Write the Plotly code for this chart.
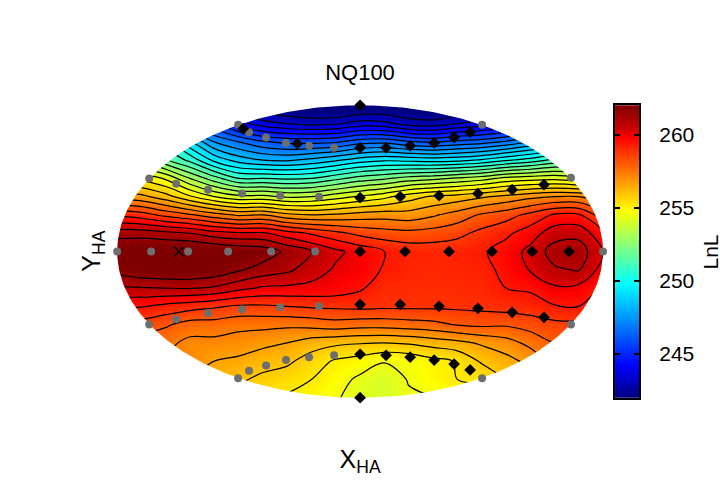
import numpy as np
import plotly.graph_objects as go

# Grid of the LnL surface, rows listed from top (y=1) to bottom (y=-1)
x_grid = np.round(np.arange(-1, 1.01, 0.1), 2)
y_grid = np.round(np.arange(1, -1.01, -0.125), 3)

lnl_rows = [
    [245.0, 244.5, 244.0, 243.5, 243.0, 242.4, 241.9, 241.6, 241.4, 241.4, 241.6, 241.7, 241.5, 241.4, 241.5, 241.7, 242.2, 242.8, 243.3, 243.8, 244.3],
    [248.0, 247.5, 247.0, 246.5, 245.5, 244.3, 243.6, 243.3, 243.1, 243.2, 243.6, 243.5, 243.0, 242.9, 243.3, 243.6, 244.0, 244.5, 245.0, 245.5, 246.0],
    [252.0, 251.5, 250.5, 249.0, 247.5, 246.8, 246.2, 245.9, 245.9, 246.0, 246.5, 246.6, 246.2, 246.0, 246.3, 246.5, 246.9, 247.5, 248.0, 248.5, 249.0],
    [254.0, 253.0, 251.8, 250.8, 249.4, 248.6, 248.2, 248.1, 248.4, 248.8, 249.25, 249.5, 249.4, 249.3, 249.4, 249.7, 250.2, 250.6, 251.2, 251.3, 251.0],
    [255.5, 255.0, 254.4, 253.1, 252.0, 251.0, 251.0, 250.9, 251.0, 251.5, 252.0, 252.3, 252.7, 252.9, 253.2, 253.5, 254.0, 254.2, 254.3, 254.0, 253.5],
    [257.0, 256.8, 256.2, 255.3, 254.5, 254.0, 254.0, 253.7, 253.8, 254.2, 254.6, 255.0, 255.6, 256.0, 256.2, 256.5, 256.8, 257.1, 257.3, 257.3, 256.9],
    [259.3, 259.0, 258.5, 258.1, 257.6, 257.2, 257.3, 256.8, 256.6, 256.7, 256.9, 257.0, 256.9, 257.2, 257.6, 258.1, 258.4, 258.9, 259.5, 259.5, 258.3],
    [261.2, 261.2, 261.0, 260.8, 260.4, 260.2, 260.2, 259.7, 259.3, 258.9, 258.5, 258.3, 258.2, 258.3, 258.5, 258.9, 259.25, 259.75, 260.5, 260.55, 259.6],
    [262.2, 262.3, 262.4, 262.4, 262.3, 262.1, 261.9, 261.35, 260.8, 260.25, 259.85, 259.4, 259.15, 259.1, 259.15, 259.3, 259.7, 260.3, 261.1, 261.2, 260.1],
    [261.8, 262.1, 262.2, 262.2, 262.0, 261.6, 261.2, 260.95, 260.45, 260.0, 259.9, 259.3, 259.1, 259.05, 259.1, 259.15, 259.6, 260.15, 260.7, 260.85, 259.8],
    [260.7, 260.75, 260.8, 260.85, 260.7, 260.3, 260.0, 259.95, 259.9, 259.8, 259.5, 259.0, 259.0, 258.95, 259.0, 259.05, 259.4, 259.5, 260.0, 259.9, 259.3],
    [259.5, 259.45, 259.2, 259.0, 258.8, 258.6, 258.6, 258.7, 258.8, 258.85, 258.9, 258.85, 258.85, 258.85, 258.85, 258.9, 259.0, 259.1, 259.35, 259.4, 259.0],
    [258.5, 258.4, 258.1, 257.7, 257.7, 257.5, 257.5, 257.45, 257.55, 257.7, 257.6, 257.6, 257.7, 257.8, 258.05, 258.15, 258.1, 258.3, 258.5, 258.5, 258.0],
    [257.6, 257.6, 257.5, 257.1, 257.1, 257.0, 256.8, 256.6, 256.25, 256.05, 255.95, 255.9, 256.0, 256.2, 256.4, 256.7, 257.0, 257.5, 258.0, 258.0, 257.5],
    [257.2, 257.2, 257.2, 257.1, 256.6, 256.45, 256.15, 256.05, 255.55, 255.1, 254.9, 254.55, 254.65, 255.0, 255.25, 256.0, 256.35, 256.8, 257.5, 257.5, 257.0],
    [256.6, 256.6, 256.5, 256.5, 256.3, 256.0, 255.75, 255.5, 255.2, 254.8, 254.35, 254.05, 254.55, 254.9, 255.2, 255.25, 255.9, 256.3, 256.5, 257.0, 257.0],
    [256.3, 256.2, 256.1, 256.0, 255.9, 255.6, 255.3, 255.1, 254.9, 254.6, 254.1, 254.0, 254.4, 254.45, 254.9, 255.1, 255.5, 256.0, 256.5, 256.8, 257.0],
]

cbar_ticks = [245, 250, 255, 260]
cbar_levels = np.linspace(242, 262, 201)

# Sampled points
grey_x = [-1.0, -0.86, -0.708, -0.543, -0.366, -0.185,
          -0.868, -0.757, -0.626, -0.486, -0.329, -0.169,
          -0.868, -0.757, -0.626, -0.486, -0.329, -0.169,
          -0.502, -0.457, -0.387, -0.305, -0.21, -0.107,
          -0.502, -0.457, -0.387, -0.305, -0.21, -0.107,
          1.0, 0.868, 0.868, 0.502, 0.502]
grey_y = [0, 0, 0, 0, 0, 0,
          0.5, 0.464, 0.423, 0.396, 0.382, 0.375,
          -0.5, -0.464, -0.423, -0.396, -0.382, -0.375,
          0.867, 0.816, 0.78, 0.743, 0.723, 0.71,
          -0.867, -0.816, -0.78, -0.743, -0.723, -0.71,
          0, 0.505, -0.5, 0.867, -0.867]

black_x = [0, 0, 0, 0, 0, 0, 0,
           0.185, 0.366, 0.543, 0.708, 0.86,
           0.165, 0.325, 0.485, 0.626, 0.757,
           0.165, 0.325, 0.485, 0.626, 0.757,
           0.107, 0.206, 0.305, 0.387, 0.453,
           0.107, 0.206, 0.305, 0.387, 0.453,
           -0.481, -0.259]
black_y = [1, 0.71, 0.368, 0, -0.362, -0.703, -1,
           0, 0, 0, 0, 0,
           0.375, 0.382, 0.396, 0.423, 0.457,
           -0.362, -0.375, -0.389, -0.416, -0.45,
           0.71, 0.723, 0.743, 0.78, 0.816,
           -0.71, -0.723, -0.743, -0.77, -0.81,
           0.84, 0.737]

best_x = [-0.745]
best_y = [0]

jet = [
    [0, "#00007f"], [0.11, "#0000ff"], [0.39, "#00ffff"], [0.64, "#ffff00"],
    [0.89, "#ff0000"], [0.915, "#d00000"], [1, "#7f0000"],
]

fig = go.Figure()

fig.add_trace(go.Heatmap(
    x=x_grid, y=y_grid[::-1], z=lnl_rows[::-1],
    colorscale=jet, zmin=242, zmax=262, zsmooth="best", hoverinfo="skip",
    showscale=False,
))

fig.add_trace(go.Contour(
    x=x_grid, y=y_grid[::-1], z=lnl_rows[::-1],
    contours=dict(coloring="none", start=242.6, end=261.6, size=0.7),
    line=dict(color="black", width=1.2, smoothing=1),
    showscale=False, hoverinfo="skip",
))

# White mask around the ellipse so the surface only shows inside it
t = np.linspace(np.pi, -np.pi, 361)
mask_x = [-1.06, -1.06, 1.06, 1.06, -1.06, -1.06] + list(np.cos(t)) + [-1.06]
mask_y = [0, -1.06, -1.06, 1.06, 1.06, 0] + list(np.sin(t)) + [0]
fig.add_trace(go.Scatter(
    x=mask_x, y=mask_y, mode="lines", fill="toself", fillcolor="white",
    line=dict(width=0), hoverinfo="skip", showlegend=False,
))

fig.add_trace(go.Scatter(
    x=grey_x, y=grey_y, mode="markers", cliponaxis=False, showlegend=False,
    marker=dict(symbol="circle", size=8, color="#6e6e6e"),
))
fig.add_trace(go.Scatter(
    x=black_x, y=black_y, mode="markers", cliponaxis=False, showlegend=False,
    marker=dict(symbol="diamond", size=9, color="black"),
))
fig.add_trace(go.Scatter(
    x=best_x, y=best_y, mode="markers", cliponaxis=False, showlegend=False,
    marker=dict(symbol="x-thin", size=10, line=dict(color="black", width=1.3)),
))

# Colour key on its own axes, so the ticks can show on both edges
fig.add_trace(go.Heatmap(
    x=[0], y=cbar_levels, z=[[v] for v in cbar_levels],
    colorscale=jet, zmin=242, zmax=262, showscale=False, hoverinfo="skip",
    xaxis="x2", yaxis="y2",
))

axis_style = dict(range=[-1.05, 1.05], showgrid=False, zeroline=False, showline=False,
                  showticklabels=False, ticks="")

left = 104.85
plot_w = 603.15
fig.add_annotation(text="LnL", xref="paper", yref="paper", textangle=-90,
                   x=(711 - left) / plot_w, y=0.5, xanchor="center", yanchor="middle",
                   showarrow=False, font=dict(size=21, color="black"))
fig.add_annotation(text="Y<sub>HA</sub>", xref="paper", yref="paper", textangle=-90,
                   x=(92 - left) / plot_w, y=0.5, xanchor="center", yanchor="middle",
                   showarrow=False, font=dict(size=25, color="black"))

fig.update_layout(
    width=720, height=504, autosize=False,
    paper_bgcolor="white", plot_bgcolor="white",
    margin=dict(l=left, r=12, t=97.65, b=98.7, autoexpand=False),
    font=dict(family="Liberation Sans", size=21, color="black"),
    title=dict(text="NQ100", x=0.5, xref="container", xanchor="center",
               y=1 - 72 / 504, yanchor="middle", font=dict(size=22)),
    xaxis=dict(domain=[0, 510.3 / plot_w],
               title=dict(text="X<sub>HA</sub>", standoff=45), **axis_style),
    yaxis=dict(**axis_style),
    xaxis2=dict(domain=[(615 - left) / plot_w, (639 - left) / plot_w], anchor="y2",
                showticklabels=False, ticks="", showgrid=False, zeroline=False,
                showline=True, mirror=True, linecolor="black", linewidth=2),
    yaxis2=dict(domain=[7.3 / 307.65, 300.3 / 307.65], anchor="x2", side="right",
                range=[242, 262], tickvals=cbar_ticks, ticks="inside", ticklen=5,
                tickwidth=1.5, tickcolor="black", mirror="allticks", showline=True,
                linecolor="black", linewidth=2, showgrid=False, zeroline=False,
                ticklabelstandoff=14, tickfont=dict(size=21, color="black")),
    showlegend=False,
)

# Page margin off, so the 720 wide figure fits the window exactly
fig.write_html("out.html", config=dict(displayModeBar=False),
               post_script="document.body.style.margin='0'")
